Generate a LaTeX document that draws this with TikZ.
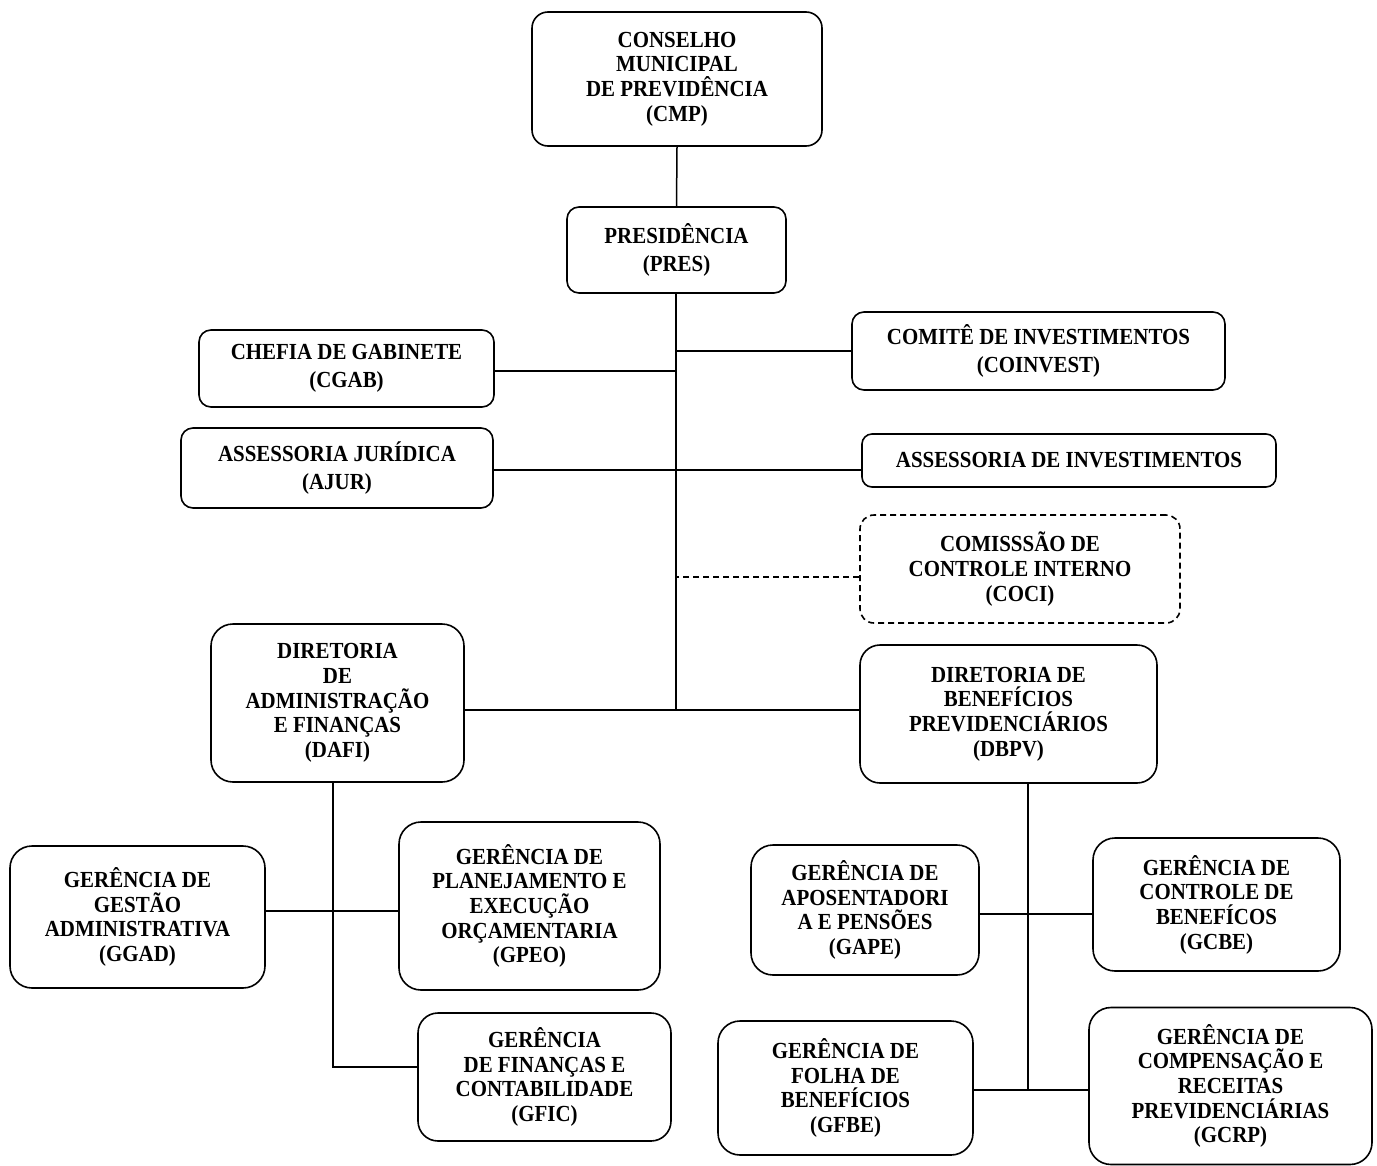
\documentclass[tikz,border=0pt]{standalone}
\usepackage{fontspec}
\setmainfont[FakeStretch=0.91]{Liberation Serif}
\begin{document}
\begin{tikzpicture}[x=1bp,y=-1bp,
  box/.style={draw=black, line width=1.6bp, rounded corners=16bp, align=center,
    inner sep=0pt, font=\fontsize{23bp}{24.7bp}\selectfont\bfseries},
  conn/.style={draw=black, line width=1.5bp},
  dconn/.style={conn, dash pattern=on 6bp off 4bp}]
\useasboundingbox (0,0) rectangle (1377,1165);
\fill[white] (0,0) rectangle (1377,1165);

\node[box, minimum width=290bp, minimum height=134bp] (cmp) at (677,79) {CONSELHO\\MUNICIPAL\\DE PREVIDÊNCIA\\(CMP)};
\node[box, minimum width=219bp, minimum height=86bp, rounded corners=12bp] (pres) at (676.5,250) {PRESIDÊNCIA\\[4bp](PRES)};
\node[box, minimum width=295bp, minimum height=77bp, rounded corners=12bp] (cgab) at (346.5,368.5) {CHEFIA DE GABINETE\\[3bp](CGAB)};
\node[box, minimum width=373bp, minimum height=78bp, rounded corners=12bp] (coinv) at (1038.5,351) {COMITÊ DE INVESTIMENTOS\\[3bp](COINVEST)};
\node[box, minimum width=312bp, minimum height=80bp, rounded corners=12bp] (ajur) at (337,468) {ASSESSORIA JURÍDICA\\[3bp](AJUR)};
\node[box, minimum width=414bp, minimum height=53bp, rounded corners=10bp] (ainv) at (1069,460.5) {ASSESSORIA DE INVESTIMENTOS};
\node[box, dash pattern=on 6bp off 4bp, minimum width=320bp, minimum height=108bp, rounded corners=14bp] (coci) at (1020,569) {COMISSSÃO DE\\CONTROLE INTERNO\\(COCI)};
\node[box, minimum width=253bp, minimum height=158bp, rounded corners=22bp] (dafi) at (337.5,703) {DIRETORIA\\DE\\ADMINISTRAÇÃO\\E FINANÇAS\\(DAFI)};
\node[box, minimum width=297bp, minimum height=138bp, rounded corners=20bp] (dbpv) at (1008.5,714) {DIRETORIA DE\\BENEFÍCIOS\\PREVIDENCIÁRIOS\\(DBPV)};
\node[box, minimum width=255bp, minimum height=142bp, rounded corners=22bp] (ggad) at (137.5,917) {GERÊNCIA DE\\GESTÃO\\ADMINISTRATIVA\\(GGAD)};
\node[box, minimum width=261bp, minimum height=168bp, rounded corners=22bp] (gpeo) at (529.5,906) {GERÊNCIA DE\\PLANEJAMENTO E\\EXECUÇÃO\\ORÇAMENTARIA\\(GPEO)};
\node[box, minimum width=253bp, minimum height=128bp, rounded corners=20bp] (gfic) at (544.5,1077) {GERÊNCIA\\DE FINANÇAS E\\CONTABILIDADE\\(GFIC)};
\node[box, minimum width=228bp, minimum height=130bp, rounded corners=22bp] (gape) at (865,910) {GERÊNCIA DE\\APOSENTADORI\\A E PENSÕES\\(GAPE)};
\node[box, minimum width=247bp, minimum height=133bp, rounded corners=22bp] (gcbe) at (1216.5,904.5) {GERÊNCIA DE\\CONTROLE DE\\BENEFÍCOS\\(GCBE)};
\node[box, minimum width=255bp, minimum height=134bp, rounded corners=22bp] (gfbe) at (845.5,1088) {GERÊNCIA DE\\FOLHA DE\\BENEFÍCIOS\\(GFBE)};
\node[box, minimum width=283bp, minimum height=157bp, rounded corners=22bp] (gcrp) at (1230.5,1086) {GERÊNCIA DE\\COMPENSAÇÃO E\\RECEITAS\\PREVIDENCIÁRIAS\\(GCRP)};

\coordinate (tb) at (676,710);
\coordinate (dj) at (333,1067);
\coordinate (dk) at (1028,1090);

\draw[conn] (cmp.south) -- (pres.north);
\draw[conn] (pres.south -| tb) -- (tb);
\draw[conn] (cgab.east |- 0,371) -- (tb |- 0,371);
\draw[conn] (coinv.west) -- (coinv.west -| tb);
\draw[conn] (ajur.east |- 0,470) -- (ainv.west |- 0,470);
\draw[dconn] (coci.west |- 0,577) -- (tb |- 0,577);
\draw[conn] (dafi.east |- tb) -- (dbpv.west |- tb);
\draw[conn] (dafi.south -| dj) -- (dj) -- (gfic.west |- dj);
\draw[conn] (ggad.east |- 0,911) -- (gpeo.west |- 0,911);
\draw[conn] (dbpv.south -| dk) -- (dk);
\draw[conn] (gape.east |- 0,914) -- (gcbe.west |- 0,914);
\draw[conn] (gfbe.east |- dk) -- (gcrp.west |- dk);
\end{tikzpicture}
\end{document}
